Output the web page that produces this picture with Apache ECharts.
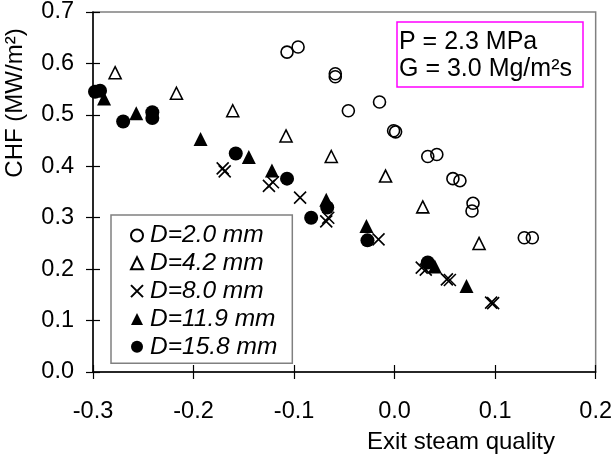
<!DOCTYPE html>
<html>
<head>
<meta charset="utf-8">
<script src="https://cdn.jsdelivr.net/npm/echarts@6/dist/echarts.min.js"></script>
<style>html,body{margin:0;padding:0;background:#fff}#c{width:615px;height:459px}</style>
</head>
<body>
<div id="c"></div>
<script>
// ---- data ----
const xTicks = [-0.3, -0.2, -0.1, 0.0, 0.1, 0.2];
const yTicks = [0, 0.1, 0.2, 0.3, 0.4, 0.5, 0.6, 0.7];
const seriesNames = ['D=2.0 mm', 'D=4.2 mm', 'D=8.0 mm', 'D=11.9 mm', 'D=15.8 mm'];
const d20 = [[-0.107,0.622],[-0.096,0.632],[-0.059,0.580],[-0.059,0.574],[-0.046,0.508],[-0.015,0.525],[-0.001,0.469],[0.001,0.467],[0.033,0.419],[0.042,0.423],[0.058,0.376],[0.065,0.372],[0.078,0.328],[0.077,0.313],[0.129,0.261],[0.137,0.261]];
const d42 = [[-0.278,0.582],[-0.217,0.542],[-0.161,0.508],[-0.108,0.459],[-0.063,0.419],[-0.009,0.381],[0.028,0.321],[0.084,0.250]];
const d80 = [[-0.171,0.396],[-0.169,0.390],[-0.125,0.362],[-0.121,0.369],[-0.094,0.339],[-0.068,0.293],[-0.066,0.300],[-0.016,0.258],[0.027,0.203],[0.031,0.199],[0.052,0.180],[0.055,0.179],[0.096,0.135],[0.098,0.134]];
const d119 = [[-0.289,0.532],[-0.257,0.503],[-0.193,0.453],[-0.145,0.418],[-0.122,0.392],[-0.068,0.335],[-0.028,0.284],[0.040,0.205],[0.0715,0.167]];
const d158 = [[-0.298,0.545],[-0.293,0.547],[-0.270,0.487],[-0.241,0.505],[-0.241,0.494],[-0.158,0.425],[-0.107,0.376],[-0.083,0.300],[-0.067,0.320],[-0.027,0.256],[0.033,0.213]];
const infoLines = ['P = 2.3 MPa', 'G = 3.0 Mg/m²s'];
const xName = 'Exit steam quality';
const yName = 'CHF (MW/m²)';

const FONT = 'Liberation Sans, Arial, sans-serif';
const chart = echarts.init(document.getElementById('c'), null, {renderer: 'canvas'});
const crossPath = 'path://M0,0L10,10M10,0L0,10';
const clear = 'rgba(0,0,0,0)';

function axisPair(kind, ticks) {
  const min = ticks[0], max = ticks[ticks.length - 1];
  const interval = Math.round((ticks[1] - ticks[0]) * 10) / 10;
  const base = {
    type: 'value', min: min, max: max, interval: interval,
    splitLine: {show: false}
  };
  const main = Object.assign({}, base, {
    position: kind === 'x' ? 'bottom' : 'left',
    axisLine: {show: true, onZero: false, lineStyle: {color: '#000', width: 1.5}},
    axisTick: {show: true, inside: false, length: 7, lineStyle: {color: '#000', width: 1.2}},
    axisLabel: {
      show: true, color: '#000', fontSize: 23.5, fontFamily: FONT,
      margin: kind === 'x' ? 28 : 19,
      formatter: v => v.toFixed(1)
    }
  });
  const inner = Object.assign({}, base, {
    position: kind === 'x' ? 'bottom' : 'left',
    axisLine: {show: false, onZero: false},
    axisTick: {show: true, inside: true, length: 7, lineStyle: {color: '#000', width: 1.2}},
    axisLabel: {show: false}
  });
  return [main, inner];
}

const openStyle = {color: clear, borderColor: '#000', borderWidth: 1.6, opacity: 1};
const fillStyle = {color: '#000', opacity: 1};

const option = {
  animation: false,
  backgroundColor: '#fff',
  grid: {left: 93, right: 17, top: 11, bottom: 87, show: true, borderColor: '#808080', borderWidth: 1.5, backgroundColor: 'transparent'},
  xAxis: axisPair('x', xTicks),
  yAxis: axisPair('y', yTicks),
  legend: {
    orient: 'vertical', left: 111, top: 215,
    padding: [8, 15, 4, 19],
    itemGap: 2.8, itemWidth: 12, itemHeight: 12,
    borderColor: '#808080', borderWidth: 1.5, backgroundColor: '#fff',
    textStyle: {fontSize: 24.5, fontStyle: 'italic', fontFamily: FONT, color: '#000', lineHeight: 24.5, padding: [0, 0, 0, 2]},
    data: seriesNames
  },
  series: [
    {name: seriesNames[0], type: 'scatter', data: d20, symbol: 'circle', symbolSize: 12, itemStyle: openStyle},
    {name: seriesNames[1], type: 'scatter', data: d42, symbol: 'triangle', symbolSize: 12, itemStyle: openStyle},
    {name: seriesNames[2], type: 'scatter', data: d80, symbol: crossPath, symbolSize: 12, itemStyle: openStyle},
    {name: seriesNames[3], type: 'scatter', data: d119, symbol: 'triangle', symbolSize: 14, itemStyle: fillStyle},
    {name: seriesNames[4], type: 'scatter', data: d158, symbol: 'circle', symbolSize: 14, itemStyle: fillStyle}
  ],
  graphic: [
    {type: 'rect', shape: {x: 397, y: 22, width: 186, height: 65},
     style: {fill: '#fff', stroke: '#ff00ff', lineWidth: 1.5}, z: 10},
    {type: 'text', x: 399, y: 42, z: 11,
     style: {text: infoLines[0], fontSize: 25, fontFamily: FONT, fill: '#000', verticalAlign: 'middle'}},
    {type: 'text', x: 399, y: 69, z: 11,
     style: {text: infoLines[1], fontSize: 25, fontFamily: FONT, fill: '#000', verticalAlign: 'middle'}},
    {type: 'text', x: 461, y: 442, z: 11,
     style: {text: xName, fontSize: 24, fontFamily: FONT, fill: '#000', align: 'center', verticalAlign: 'middle'}},
    {type: 'text', x: 15, y: 103, rotation: Math.PI / 2, z: 11,
     style: {text: yName, fontSize: 24, fontFamily: FONT, fill: '#000', align: 'center', verticalAlign: 'middle'}}
  ]
};
chart.setOption(option);
</script>
</body>
</html>
